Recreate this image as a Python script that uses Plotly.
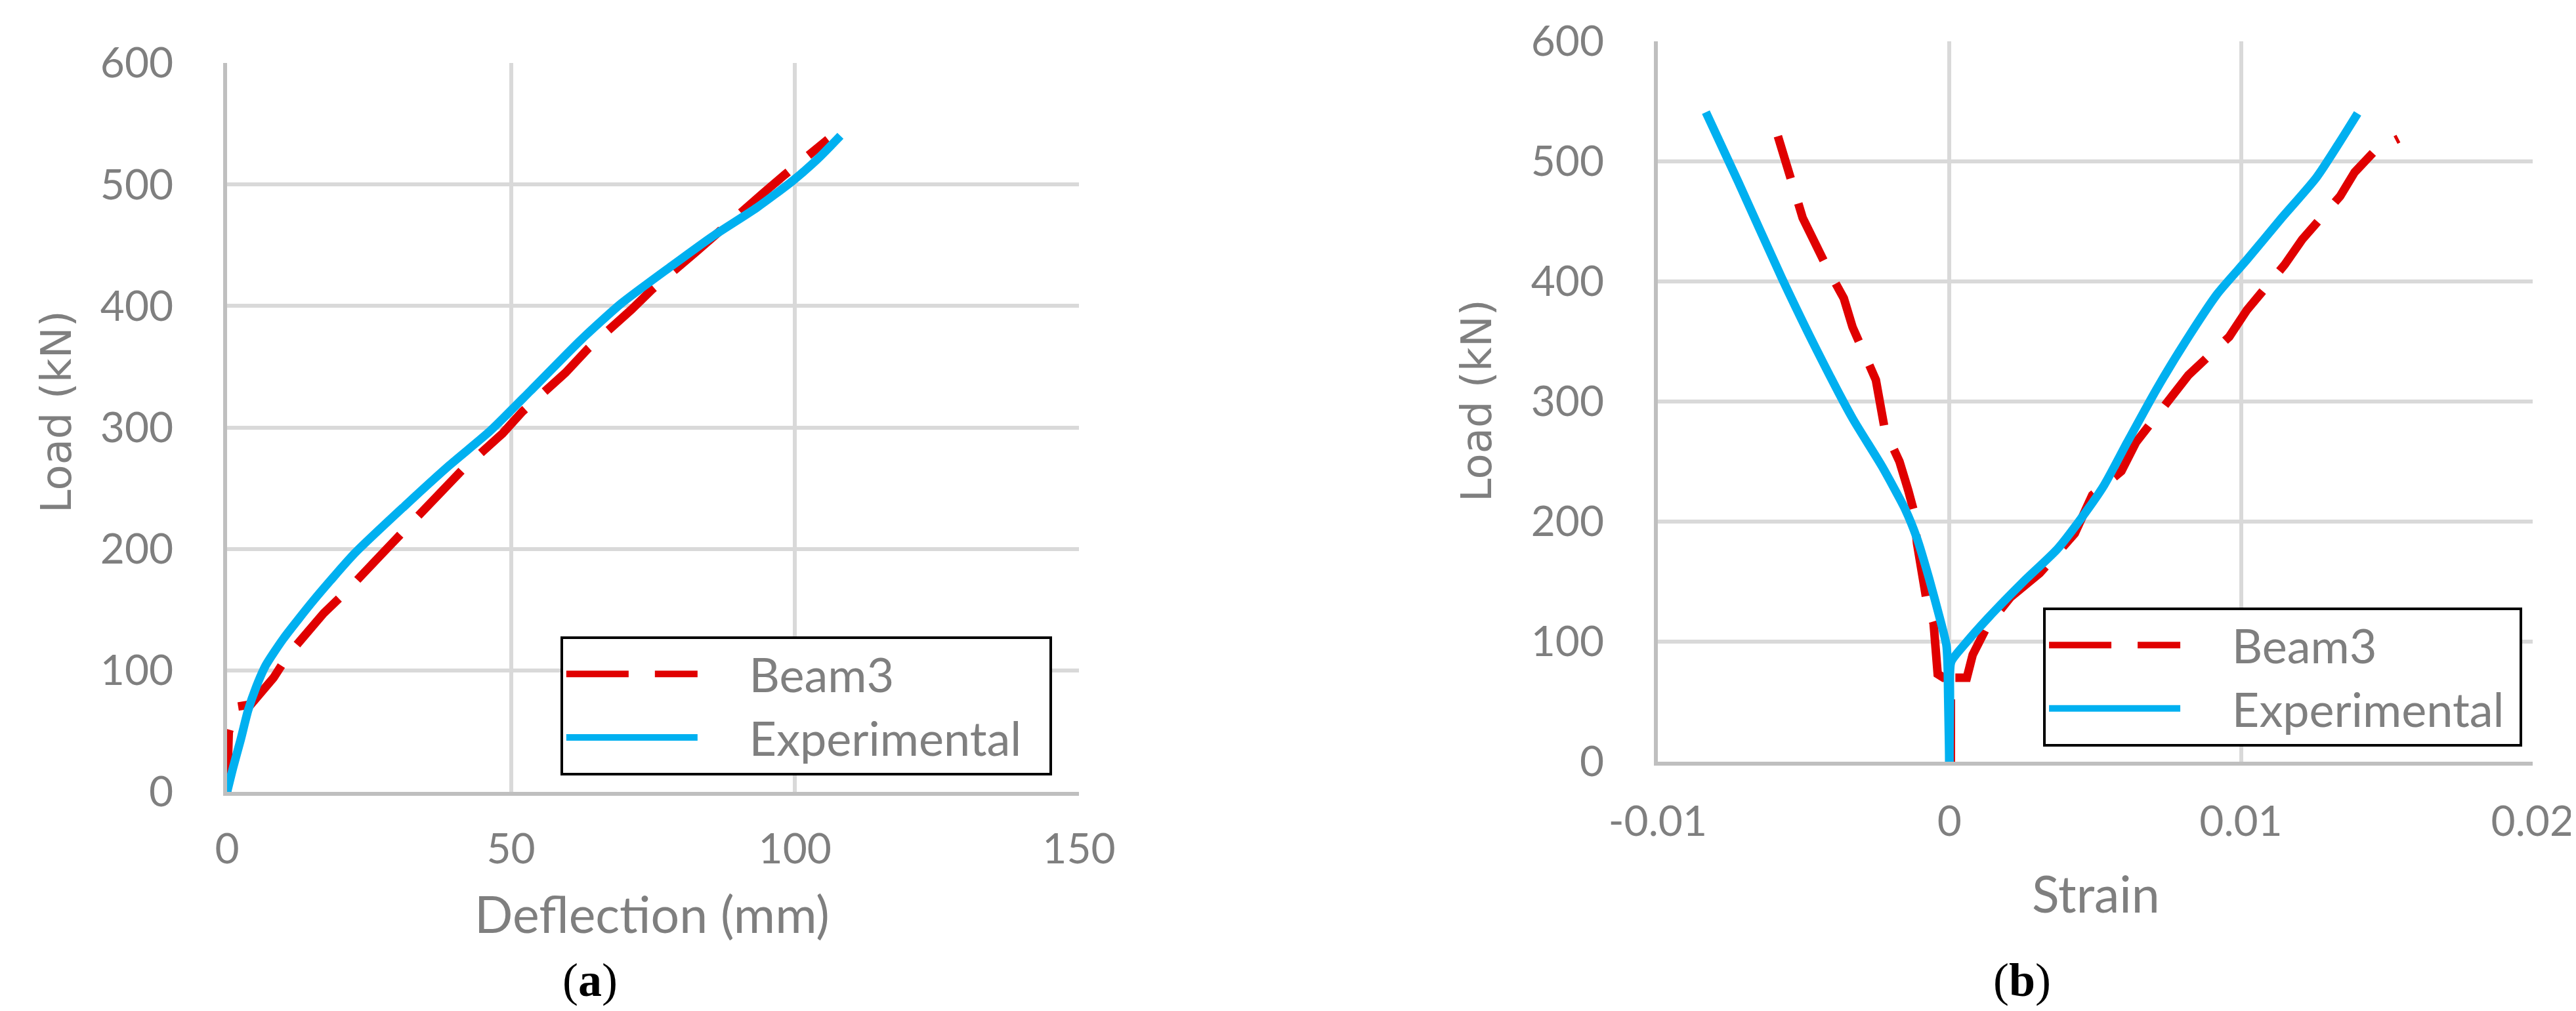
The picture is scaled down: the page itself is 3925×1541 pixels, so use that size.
import plotly.graph_objects as go

# ---- (a) load vs mid-span deflection ----
defl_beam3 = [0, 0.2, 0.3, 1.5, 4.2, 8.2, 10.8, 17, 21, 27.7, 31.2, 37.9, 41.4, 48.5,
              52, 59.6, 63.6, 71.2, 74.7, 82.7, 86.7, 94.2, 98.2, 105.8]
load_beam3_a = [0, 30, 49, 70, 72, 94, 113, 147, 165, 198, 215, 246, 265, 295,
                313, 345, 365, 397, 413, 445, 462, 492, 508, 537]

defl_exp = [0, 1.06, 2.4, 3.7, 5.1, 6.8, 9.9, 15.3, 22.4, 31.2, 39.2, 46.3, 53.4,
            62.3, 69.4, 78.3, 85.4, 93.3, 99.6, 104, 108]
load_exp_a = [0, 20, 43, 67, 86, 104, 126, 158, 196, 235, 269, 297, 330,
              372, 402, 433, 457, 481, 503, 521, 540]

# ---- (b) load vs strain (compression / tension branches) ----
strain_beam3_comp = [0.00005, 0.00005, -0.0002, -0.0004, -0.00054, -0.0008, -0.00111,
                     -0.00121, -0.00141, -0.00171, -0.00221, -0.00252, -0.00292,
                     -0.00332, -0.00362, -0.00412, -0.00503, -0.00533, -0.00588]
load_beam3_comp = [0, 70, 70, 73, 115, 137, 182, 208, 226, 250, 276, 318, 340,
                   362, 386, 408, 453, 477, 521]
strain_beam3_tens = [0.00005, 0.00005, 0.0006, 0.0008, 0.0013, 0.0021, 0.0031, 0.0043,
                     0.0049, 0.0059, 0.0064, 0.0075, 0.0082, 0.0096, 0.0102, 0.0115,
                     0.0121, 0.0134, 0.0139, 0.0146, 0.0154]
load_beam3_tens = [0, 70, 70, 89, 113, 137, 157, 190, 222, 242, 266, 300, 322, 354,
                   376, 414, 435, 471, 491, 509, 519]

strain_exp_comp = [0, -0.00004, -0.00006, -0.0001, -0.0003, -0.0007, -0.00111,
                   -0.00151, -0.00231, -0.00332, -0.00453, -0.00573, -0.00724, -0.00835]
load_exp_comp = [0, 53, 81, 97, 117, 153, 186, 210, 246, 286, 342, 402, 483, 541]
strain_exp_tens = [0, 0.00002, 0.00006, 0.0005, 0.0013, 0.0025, 0.0037, 0.0045, 0.0053,
                   0.0061, 0.0071, 0.0081, 0.0092, 0.0102, 0.0114, 0.0126, 0.0140]
load_exp_tens = [0, 53, 83, 97, 119, 149, 177, 202, 230, 266, 310, 350, 390, 418,
                 453, 487, 540]

strain_ticks = [-0.01, 0, 0.01, 0.02]
strain_tick_labels = ["-0.01", "0", "0.01", "0.02"]

RED = "#E00000"
BLUE = "#00B0F0"
GREY = "#7F7F7F"
FONT = "Lato"
LW = 13
DASH = "95px,40px"


def legend_name(s, lead=4, tail=2):
    # non-breaking spaces push the text away from the short key line
    return "\u00a0" * lead + s + "\u00a0" * tail


fig = go.Figure()

# (a)
fig.add_trace(go.Scatter(x=defl_beam3, y=load_beam3_a, mode="lines",
                         name=legend_name("Beam3"),
                         line=dict(color=RED, width=LW, dash=DASH),
                         xaxis="x", yaxis="y", legend="legend"))
fig.add_trace(go.Scatter(x=defl_exp, y=load_exp_a, mode="lines",
                         name=legend_name("Experimental"),
                         line=dict(color=BLUE, width=LW, shape="spline", smoothing=0.6),
                         xaxis="x", yaxis="y", legend="legend"))

# (b)
fig.add_trace(go.Scatter(x=strain_beam3_comp, y=load_beam3_comp, mode="lines",
                         name="Beam3", showlegend=False,
                         line=dict(color=RED, width=LW, dash=DASH),
                         xaxis="x2", yaxis="y2"))
fig.add_trace(go.Scatter(x=strain_beam3_tens, y=load_beam3_tens, mode="lines",
                         name=legend_name("Beam3", 4, 1),
                         line=dict(color=RED, width=LW, dash=DASH),
                         xaxis="x2", yaxis="y2", legend="legend2"))
fig.add_trace(go.Scatter(x=strain_exp_comp, y=load_exp_comp, mode="lines",
                         name="Experimental", showlegend=False,
                         line=dict(color=BLUE, width=LW, shape="spline", smoothing=0.6),
                         xaxis="x2", yaxis="y2"))
fig.add_trace(go.Scatter(x=strain_exp_tens, y=load_exp_tens, mode="lines",
                         name=legend_name("Experimental", 4, 1),
                         line=dict(color=BLUE, width=LW, shape="spline", smoothing=0.6),
                         xaxis="x2", yaxis="y2", legend="legend2"))

axis_style = dict(
    showgrid=True, gridcolor="#D9D9D9", gridwidth=6,
    showline=True, linecolor="#BFBFBF", linewidth=6,
    zeroline=False, ticks="", automargin=False,
    tickfont=dict(family=FONT, size=64, color=GREY),
)

legend_style = dict(
    xanchor="left", yanchor="top", bgcolor="white",
    bordercolor="black", borderwidth=4,
    font=dict(family=FONT, size=72, color=GREY),
    itemwidth=200, tracegroupgap=0,
)

xtitle_font = dict(family=FONT, size=77, color=GREY)
ytitle_font = dict(family="DejaVu Sans", size=64, color=GREY)
caption_font = dict(family="Liberation Serif", size=72, color="black")


def label(text, x, y, font, angle=0):
    return dict(text=text, x=x, y=y, xref="paper", yref="paper",
                xanchor="center", yanchor="middle", textangle=angle,
                showarrow=False, font=font)


fig.update_layout(
    width=3925, height=1541,
    margin=dict(l=0, r=0, t=0, b=0, autoexpand=False),
    paper_bgcolor="white", plot_bgcolor="white",
    xaxis=dict(domain=[0.0861, 0.4168], range=[0, 150], dtick=50, anchor="y",
               ticklabelstandoff=26, **axis_style),
    yaxis=dict(domain=[0.2219, 0.9429], range=[0, 600], dtick=100, anchor="x",
               ticklabelstandoff=63, **axis_style),
    xaxis2=dict(domain=[0.6415, 0.9811], range=[-0.01, 0.02], anchor="y2",
                tickvals=strain_ticks, ticktext=strain_tick_labels,
                ticklabelstandoff=30, **axis_style),
    yaxis2=dict(domain=[0.2518, 0.9643], range=[0, 600], dtick=100, anchor="x2",
                ticklabelstandoff=63, **axis_style),
    legend=dict(x=0.2155, y=0.3757, **legend_style),
    legend2=dict(x=0.7911, y=0.4043, **legend_style),
    annotations=[
        label("Deflection (mm)", 0.2510, 0.1020, xtitle_font),
        label("Strain", 0.8115, 0.1220, xtitle_font),
        label("Load (kN)", 0.0199, 0.5977, ytitle_font, -90),
        label("Load (kN)", 0.5712, 0.6093, ytitle_font, -90),
        label("(<b>a</b>)", 0.227, 0.036, caption_font),
        label("(<b>b</b>)", 0.7829, 0.036, caption_font),
    ],
)

fig.write_html("out.html")
